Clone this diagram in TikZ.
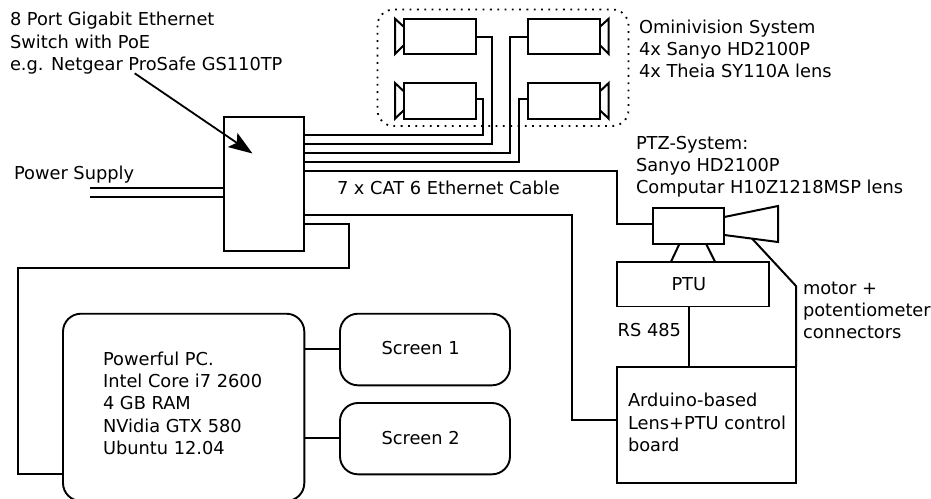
\documentclass[tikz,border=0pt]{standalone}
\usepackage{fontspec}
\setmainfont{DejaVu Sans}
\usetikzlibrary{arrows.meta,calc}
\tikzset{
  wire/.style={line width=2pt,line join=miter},
  boxnode/.style={draw,line width=1.9pt,inner sep=0pt,outer sep=0pt,minimum width=#1},
  roundnode/.style={boxnode=#1,rounded corners=18pt},
  lbl/.style={inner sep=0pt,outer sep=0pt,anchor=north west,align=left,font=\fontsize{17.8}{22.35}\selectfont},
  dots/.style={line width=1.8pt,dash pattern=on 1.8pt off 5.5pt,rounded corners=16pt},
}
\newcommand{\strutline}{\rule{0pt}{14pt}}
\begin{document}
\begin{tikzpicture}[x=1pt,y=-1pt]
\useasboundingbox (0,0) rectangle (931,498);
\clip (0,0) rectangle (931,498);
% dotted enclosure
\draw[dots] (377.5,9.5) rectangle (628.5,126);
% main boxes
\node[boxnode=80.3pt,minimum height=134.3pt] (sw) at (263.85,183.85) {};
\node[boxnode=72pt,minimum height=35.3pt] (cam1) at (440,36.35) {};
\node[boxnode=72pt,minimum height=35.7pt] (cam2) at (440,100.85) {};
\node[boxnode=72pt,minimum height=35.3pt] (cam3) at (563.7,36.35) {};
\node[boxnode=72pt,minimum height=35.7pt] (cam4) at (563.7,100.85) {};
\node[boxnode=71.6pt,minimum height=35.7pt] (ptz) at (688.5,225.85) {};
\node[boxnode=152pt,minimum height=44.8pt] (ptu) at (693,284.1) {};
\node[boxnode=179pt,minimum height=116.3pt] (board) at (706.2,425.15) {};
\node[roundnode=241.3pt,minimum height=187.3pt] (pc) at (183.65,407.35) {};
\node[roundnode=170pt,minimum height=71.6pt] (scr1) at (425,349.5) {};
\node[roundnode=170pt,minimum height=71.3pt] (scr2) at (425,438.65) {};
% lenses
\draw[wire] (404,27) -- (395,18.7) -- (395,54) -- (404,45);
\draw[wire] (404,91.5) -- (395,83) -- (395,118.7) -- (404,110);
\draw[wire] (599.7,27) -- (608.7,18.7) -- (608.7,54) -- (599.7,45);
\draw[wire] (599.7,91.5) -- (608.7,83) -- (608.7,118.7) -- (599.7,110);
\coordinate (ptzlensA) at (724.3,217);
\coordinate (ptzlensB) at (778,206);
\coordinate (ptzlensC) at (778,242);
\coordinate (ptzlensD) at (724.3,235);
\draw[wire] (ptzlensA) -- (ptzlensB) -- (ptzlensC) -- (ptzlensD);
% legs
\coordinate (legA) at (679.5,243.7);
\coordinate (legAb) at (671,261.7);
\coordinate (legB) at (706,243.7);
\coordinate (legBb) at (715,261.7);
\draw[wire] (legA) -- (legAb) (legB) -- (legBb);
% switch ports
\coordinate (p2) at (304,135);
\coordinate (p1) at (304,144);
\coordinate (p3) at (304,153);
\coordinate (p4) at (304,161.8);
\coordinate (p5) at (304,170.8);
\coordinate (p6) at (304,215.2);
\coordinate (p7) at (304,224.3);
\coordinate (c1) at (492,36.7);
\coordinate (c2) at (483.3,99);
\coordinate (c3) at (510,36.7);
\coordinate (c4) at (518.7,99);
\draw[wire] (cam1.east |- c1) -- (c1) |- (p1);
\draw[wire] (cam2.east |- c2) -- (c2) |- (p2);
\draw[wire] (cam3.west |- c3) -- (c3) |- (p3);
\draw[wire] (cam4.west |- c4) -- (c4) |- (p4);
\coordinate (r5) at (617,224);
\draw[wire] (p5) -| (r5) -- (ptz.west |- r5);
\coordinate (r6) at (572.3,420.3);
\draw[wire] (p6) -| (r6) -- (board.west |- r6);
\coordinate (r7a) at (349,268.3);
\coordinate (r7b) at (18.3,474);
\draw[wire] (p7) -| (r7a) -| (r7b) -- (pc.west |- r7b);
% PC to screens
\coordinate (s1) at (304,349);
\coordinate (s2) at (304,438.3);
\draw[wire] (s1) -- (scr1.west |- s1);
\draw[wire] (s2) -- (scr2.west |- s2);
% PTU to board
\coordinate (q) at (688.7,306);
\draw[wire] (q) -- (q |- board.north);
% motor connectors
\coordinate (m0) at (752,238.5);
\coordinate (m1) at (796,286);
\draw[wire] (m0) -- (m1) -- (m1 |- board.north);
% power supply
\coordinate (psA) at (90,188);
\coordinate (psB) at (90,197);
\draw[line width=2pt] (psA) -- (sw.west |- psA);
\draw[line width=2pt] (psB) -- (sw.west |- psB);
% callout arrow
\coordinate (arrS) at (134.7,73.3);
\coordinate (arrT) at (252.5,153.5);
\draw[line width=1.8pt,-{Stealth[length=24pt,width=17pt,inset=5pt]}] (arrS) -- (arrT);
% texts
\node[lbl] (tsw) at (10,11.7) {\strutline 8 Port Gigabit Ethernet\\Switch with PoE\\e.g. Netgear ProSafe GS110TP};
\node[lbl] (tomni) at (639,19) {\strutline Ominivision System\\4x Sanyo HD2100P\\4x Theia SY110A lens};
\node[lbl] (tptz) at (636,135) {\strutline PTZ-System:\\Sanyo HD2100P\\Computar H10Z1218MSP lens};
\node[lbl] (tps) at (14,165) {\strutline Power Supply};
\node[lbl] (tcat) at (337,180) {\strutline 7 x CAT 6 Ethernet Cable};
\node[lbl] (tmot) at (803,280) {\strutline motor +\\potentiometer\\connectors};
\node[lbl] (trs) at (617.7,322.7) {\strutline RS 485};
\node[lbl] (tard) at (628,392.7) {\strutline Arduino-based\\Lens+PTU control\\board};
\node[lbl] (tpc) at (103,351) {\strutline Powerful PC.\\Intel Core i7 2600\\4 GB RAM\\NVidia GTX 580\\Ubuntu 12.04};
\node[lbl] (tptu) at (671.5,276) {\strutline PTU};
\node[lbl] (tscr1) at (381.5,340.3) {\strutline Screen 1};
\node[lbl] (tscr2) at (381.5,430) {\strutline Screen 2};
\end{tikzpicture}
\end{document}
